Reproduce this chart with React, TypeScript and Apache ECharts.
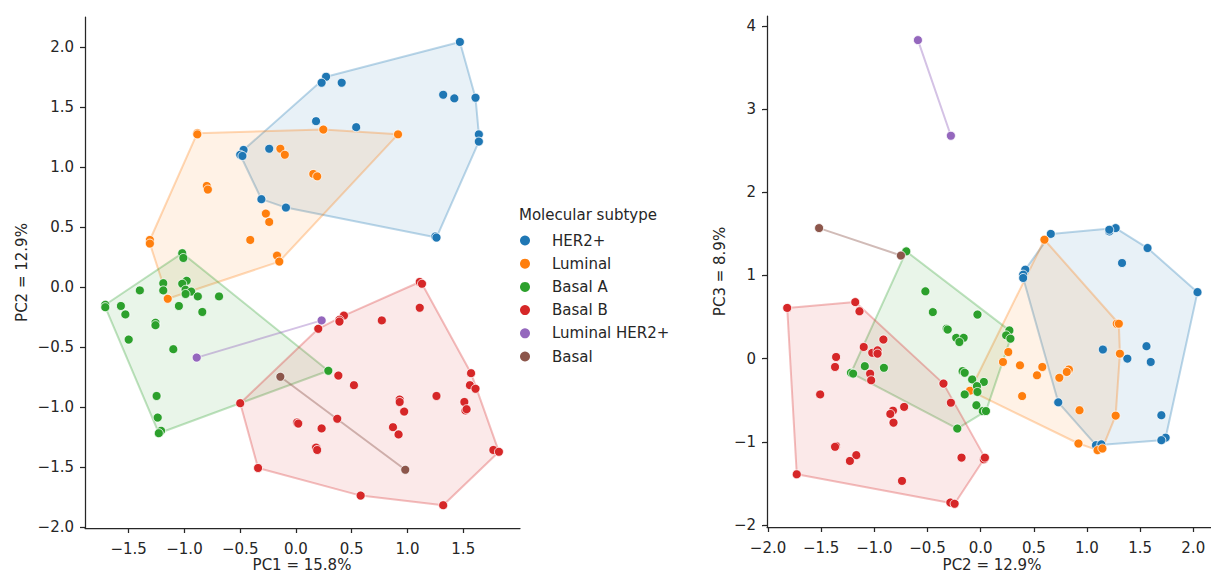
import React, { useEffect, useRef } from "react";
import * as echarts from "echarts";

const SUBTYPES = ["HER2+", "Luminal", "Basal A", "Basal B", "Luminal HER2+", "Basal"];
const COLORS = ["#1f77b4", "#ff7f0e", "#2ca02c", "#d62728", "#9467bd", "#8c564b"];
const LEGEND_TITLE = "Molecular subtype";

// Left panel: PC1 (x) vs PC2 (y)
const HER2_L = [[1.47,2.04],[0.27,1.75],[0.23,1.70],[0.41,1.70],[1.32,1.60],[1.42,1.57],[1.61,1.575],[0.18,1.38],[0.54,1.33],[1.64,1.27],[1.64,1.21],[-0.47,1.14],[-0.50,1.10],[-0.48,1.09],[-0.24,1.15],[-0.31,0.73],[-0.09,0.66],[1.25,0.42],[1.26,0.41]];
const LUMINAL_L = [[-0.885,1.28],[-0.885,1.27],[0.245,1.31],[0.915,1.27],[-0.14,1.15],[-0.10,1.10],[0.155,0.94],[0.19,0.92],[-0.80,0.84],[-0.79,0.81],[-0.27,0.61],[-0.24,0.54],[-0.41,0.39],[-1.31,0.39],[-1.31,0.36],[-0.17,0.26],[-0.15,0.21],[-1.15,-0.10]];
const BASALA_L = [[-1.02,0.28],[-1.01,0.24],[-1.19,0.03],[-1.19,-0.03],[-1.40,-0.03],[-0.98,0.05],[-1.02,0.025],[-0.99,-0.025],[-0.94,-0.04],[-0.99,-0.06],[-0.88,-0.08],[-0.69,-0.08],[-1.71,-0.15],[-1.71,-0.17],[-1.57,-0.16],[-1.53,-0.23],[-1.05,-0.16],[-0.84,-0.21],[-1.26,-0.30],[-1.26,-0.32],[-1.50,-0.44],[-1.10,-0.52],[0.29,-0.70],[-1.25,-0.91],[-1.24,-1.09],[-1.21,-1.20],[-1.23,-1.22]];
const BASALB_L = [[1.11,0.04],[1.13,0.025],[1.11,-0.175],[0.77,-0.28],[0.43,-0.24],[0.39,-0.275],[0.39,-0.29],[0.20,-0.35],[0.38,-0.74],[0.52,-0.82],[-0.50,-0.97],[1.57,-0.72],[1.56,-0.82],[1.61,-0.85],[1.26,-0.91],[0.93,-0.94],[0.93,-0.96],[0.97,-1.04],[1.51,-0.96],[1.52,-1.03],[1.53,-1.02],[0.01,-1.13],[0.02,-1.14],[0.23,-1.18],[0.37,-1.10],[0.87,-1.17],[0.92,-1.23],[0.18,-1.34],[0.19,-1.36],[1.77,-1.36],[1.82,-1.375],[-0.34,-1.51],[0.58,-1.74],[1.32,-1.82]];
const LUMHER2_L = [[-0.89,-0.59],[0.23,-0.28]];
const BASAL_L = [[-0.14,-0.75],[0.98,-1.525]];

// Right panel: PC2 (x) vs PC3 (y)
const HER2_R = [[0.66,1.50],[1.21,1.53],[1.27,1.57],[1.21,1.55],[1.57,1.33],[1.33,1.15],[2.04,0.80],[0.42,1.07],[0.40,1.01],[0.40,0.97],[1.15,0.11],[1.38,0.00],[1.56,0.15],[1.60,-0.04],[0.73,-0.525],[1.70,-0.68],[1.74,-0.95],[1.70,-0.98],[1.085,-1.04],[1.135,-1.03]];
const LUMINAL_R = [[0.60,1.43],[1.28,0.42],[1.30,0.42],[1.31,0.06],[0.26,0.08],[0.21,-0.04],[0.37,-0.08],[0.58,-0.10],[0.53,-0.20],[0.74,-0.23],[0.83,-0.13],[0.81,-0.16],[-0.10,-0.385],[0.39,-0.45],[0.93,-0.62],[1.27,-0.685],[0.92,-1.02],[1.10,-1.10],[1.145,-1.08]];
const BASALA_R = [[-0.70,1.29],[-0.52,0.81],[-0.45,0.56],[-0.32,0.36],[-0.31,0.35],[-0.23,0.25],[-0.16,0.25],[-0.20,0.20],[-0.03,0.53],[0.27,0.34],[0.24,0.28],[0.28,0.24],[-1.09,-0.09],[-0.91,-0.11],[-1.22,-0.17],[-1.20,-0.18],[-0.17,-0.15],[-0.15,-0.17],[-0.08,-0.25],[0.03,-0.28],[-0.035,-0.33],[-0.03,-0.40],[-0.15,-0.43],[-0.04,-0.56],[0.02,-0.63],[0.05,-0.63],[-0.22,-0.84]];
const BASALB_R = [[-1.82,0.61],[-1.18,0.68],[-1.14,0.57],[-0.915,0.23],[-1.10,0.14],[-1.02,0.07],[-0.97,0.10],[-0.97,0.06],[-1.36,0.02],[-1.37,-0.10],[-1.04,-0.18],[-1.03,-0.26],[-1.51,-0.43],[-0.35,-0.30],[-0.28,-0.53],[-0.72,-0.58],[-0.825,-0.625],[-0.85,-0.665],[-0.82,-0.77],[-1.36,-1.05],[-1.37,-1.06],[-1.17,-1.16],[-1.23,-1.23],[-0.18,-1.19],[0.03,-1.21],[0.04,-1.19],[-1.73,-1.39],[-0.74,-1.47],[-0.285,-1.73],[-0.245,-1.745]];
const LUMHER2_R = [[-0.59,3.83],[-0.28,2.68]];
const BASAL_R = [[-1.52,1.57],[-0.75,1.24]];

const LEFT_GROUPS = [HER2_L, LUMINAL_L, BASALA_L, BASALB_L, LUMHER2_L, BASAL_L];
const RIGHT_GROUPS = [HER2_R, LUMINAL_R, BASALA_R, BASALB_R, LUMHER2_R, BASAL_R];

const X1_TICKS = [-1.5, -1.0, -0.5, 0.0, 0.5, 1.0, 1.5];
const Y1_TICKS = [-2.0, -1.5, -1.0, -0.5, 0.0, 0.5, 1.0, 1.5, 2.0];
const X2_TICKS = [-2.0, -1.5, -1.0, -0.5, 0.0, 0.5, 1.0, 1.5, 2.0];
const Y2_TICKS = [-2, -1, 0, 1, 2, 3, 4];

const X1_NAME = "PC1 = 15.8%";
const Y1_NAME = "PC2 = 12.9%";
const X2_NAME = "PC2 = 12.9%";
const Y2_NAME = "PC3 = 8.9%";

const FONT = "DejaVu Sans";
const INK = "#262626";

function convexHull(pts: number[][]): number[][] {
  const p = pts.slice().sort((a, b) => (a[0] - b[0]) || (a[1] - b[1]));
  if (p.length <= 2) return p;
  const cross = (o: number[], a: number[], b: number[]) =>
    (a[0] - o[0]) * (b[1] - o[1]) - (a[1] - o[1]) * (b[0] - o[0]);
  const lower: number[][] = [];
  for (const q of p) {
    while (lower.length >= 2 && cross(lower[lower.length - 2], lower[lower.length - 1], q) <= 0) lower.pop();
    lower.push(q);
  }
  const upper: number[][] = [];
  for (let i = p.length - 1; i >= 0; i--) {
    const q = p[i];
    while (upper.length >= 2 && cross(upper[upper.length - 2], upper[upper.length - 1], q) <= 0) upper.pop();
    upper.push(q);
  }
  upper.pop();
  lower.pop();
  return lower.concat(upper);
}

function rgba(hex: string, a: number) {
  const n = parseInt(hex.slice(1), 16);
  return `rgba(${(n >> 16) & 255},${(n >> 8) & 255},${n & 255},${a})`;
}

const minus = (s: string) => s.replace("-", "\u2212");

function axisCommon(ticks: number[], fmt: (v: number) => string, margin: number) {
  return {
    type: "value" as const,
    axisLine: { show: true, onZero: false, lineStyle: { color: INK, width: 1.25 } },
    axisTick: { show: true, length: 5, customValues: ticks, lineStyle: { color: INK, width: 1.25 } },
    axisLabel: {
      customValues: ticks,
      formatter: (v: number) => minus(fmt(v)),
      fontSize: 15,
      fontFamily: FONT,
      color: INK,
      margin,
      hideOverlap: false,
    },
    splitLine: { show: false },
    nameLocation: "middle" as const,
    nameTextStyle: { fontSize: 15, fontFamily: FONT, color: INK },
  };
}

function buildSeries(groups: number[][][], axisIdx: number) {
  const out: any[] = [];
  groups.forEach((pts, i) => {
    const hull = convexHull(pts);
    const c = COLORS[i];
    const line = hull.length <= 2;
    out.push({
      type: "custom",
      xAxisIndex: axisIdx,
      yAxisIndex: axisIdx,
      silent: true,
      z: 1,
      data: [hull[0]],
      encode: { x: 0, y: 1 },
      renderItem: (_p: any, api: any) => ({
        type: "polygon",
        shape: { points: hull.map((q) => api.coord(q)) },
        style: {
          fill: line ? "none" : rgba(c, 0.1),
          stroke: rgba(c, line ? 0.4 : 0.3),
          lineWidth: 2,
          lineJoin: "round",
        },
      }),
    });
  });
  groups.forEach((pts, i) => {
    out.push({
      type: "scatter",
      name: SUBTYPES[i],
      xAxisIndex: axisIdx,
      yAxisIndex: axisIdx,
      silent: true,
      z: 3,
      data: pts,
      symbol: "circle",
      symbolSize: 9,
      itemStyle: { color: COLORS[i], borderColor: "#ffffff", borderWidth: 0.8, opacity: 1 },
    });
  });
  return out;
}

function textGraphics() {
  const els: any[] = [
    {
      type: "text",
      left: 519,
      top: 207,
      style: { text: LEGEND_TITLE, fontSize: 15, fontFamily: FONT, fill: INK },
    },
    {
      type: "text",
      x: 302,
      y: 565,
      style: { text: X1_NAME, fontSize: 15, fontFamily: FONT, fill: INK, textAlign: "center", verticalAlign: "middle" },
    },
    {
      type: "text",
      x: 992,
      y: 565,
      style: { text: X2_NAME, fontSize: 15, fontFamily: FONT, fill: INK, textAlign: "center", verticalAlign: "middle" },
    },
  ];
  SUBTYPES.forEach((name, i) => {
    const cy = 240.5 + i * 23.2;
    els.push({ type: "circle", shape: { cx: 525, cy, r: 5 }, style: { fill: COLORS[i] } });
    els.push({
      type: "text",
      x: 552,
      y: cy,
      style: { text: name, fontSize: 15, fontFamily: FONT, fill: INK, verticalAlign: "middle", textAlign: "left" },
    });
  });
  return els;
}

export default function App() {
  const ref = useRef<HTMLDivElement>(null);
  useEffect(() => {
    if (!ref.current) return;
    const chart = echarts.init(ref.current, null, { renderer: "svg" });
    const f1 = (v: number) => v.toFixed(1);
    const f0 = (v: number) => v.toFixed(0);
    chart.setOption({
      animation: false,
      backgroundColor: "#ffffff",
      textStyle: { fontFamily: FONT },
      grid: [
        { left: 85, top: 17, width: 435, height: 511, containLabel: false, outerBoundsMode: "none" },
        { left: 767, top: 16, width: 444, height: 511, containLabel: false, outerBoundsMode: "none" },
      ],
      xAxis: [
        { ...axisCommon(X1_TICKS, f1, 13), gridIndex: 0, min: -1.892, max: 2.009 },
        { ...axisCommon(X2_TICKS, f1, 13), gridIndex: 1, min: -2.01, max: 2.167 },
      ],
      yAxis: [
        { ...axisCommon(Y1_TICKS, f1, 11), gridIndex: 0, min: -2.01, max: 2.248, name: Y1_NAME, nameGap: 56 },
        { ...axisCommon(Y2_TICKS, f0, 11), gridIndex: 1, min: -2.024, max: 4.12, name: Y2_NAME, nameGap: 40 },
      ],
      graphic: textGraphics(),
      series: [...buildSeries(LEFT_GROUPS, 0), ...buildSeries(RIGHT_GROUPS, 1)],
    });
    return () => chart.dispose();
  }, []);
  return (
    <div
      ref={ref}
      style={{ position: "absolute", left: 0, top: 0, width: 1211, height: 575, background: "#fff" }}
    />
  );
}
